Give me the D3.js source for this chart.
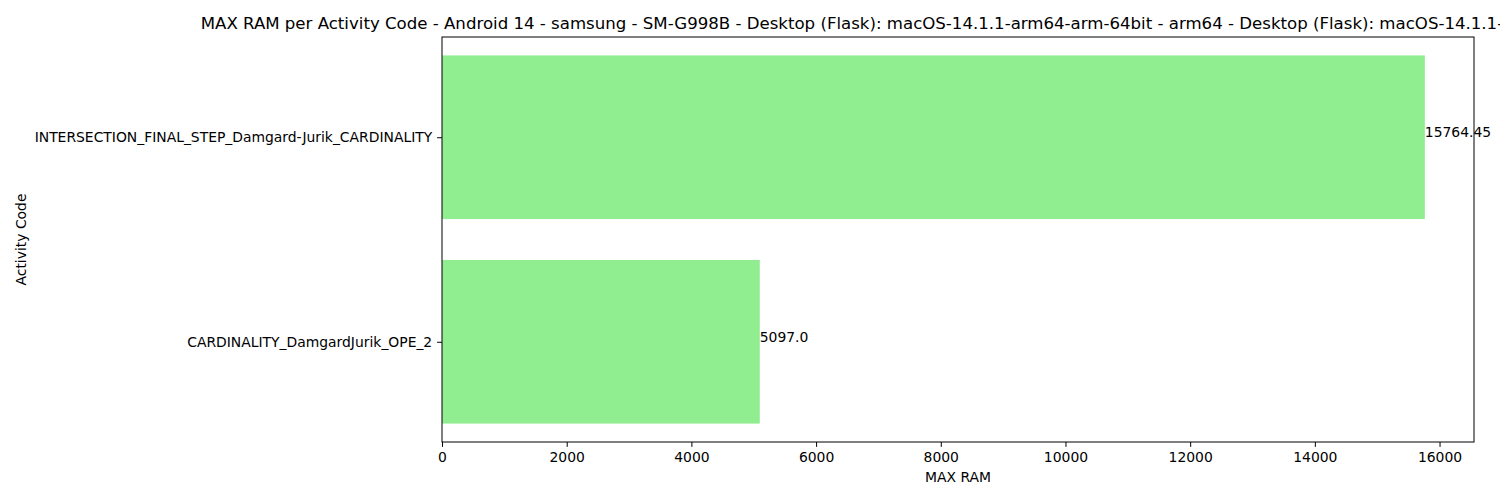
<!DOCTYPE html>
<html>
<head>
<meta charset="utf-8">
<script src="https://cdn.jsdelivr.net/npm/d3@7"></script>
<style>
  body { margin: 0; background: #fff; }
  svg text { font-family: 'DejaVu Sans', sans-serif; fill: #000; }
</style>
</head>
<body>
<div id="chart"></div>
<script>
// Data
var categories = ['CARDINALITY_DamgardJurik_OPE_2', 'INTERSECTION_FINAL_STEP_Damgard-Jurik_CARDINALITY']
var values = [5097.0, 15764.45]
var valueLabels = ['5097.0', '15764.45']
var xTicks = [0, 2000, 4000, 6000, 8000, 10000, 12000, 14000, 16000]

var titleText = 'MAX RAM per Activity Code - Android 14 - samsung - SM-G998B - Desktop (Flask): macOS-14.1.1-arm64-arm-64bit - arm64 - Desktop (Flask): macOS-14.1.1-arm64-arm-64bit - arm64'

// Set up margin/height/width
var margin = { top: 37, left: 442, right: 26, bottom: 58 }
var totalWidth = 1500
var totalHeight = 500
var width = totalWidth - margin.left - margin.right
var height = totalHeight - margin.top - margin.bottom

var svg = d3
  .select('#chart')
  .append('svg')
  .attr('width', totalWidth)
  .attr('height', totalHeight)

var g = svg.append('g').attr('transform', `translate(${margin.left},${margin.top})`)

// Scales (matplotlib-like margins)
var xMax = d3.max(values) * 1.05
var xPositionScale = d3.scaleLinear().domain([0, xMax]).range([0, width])

var barH = 0.8
var yPad = (categories.length - 1 + barH) * 0.05
var yPositionScale = d3
  .scaleLinear()
  .domain([-barH / 2 - yPad, categories.length - 1 + barH / 2 + yPad])
  .range([height, 0])

// Bars
g.selectAll('.bar')
  .data(values)
  .enter()
  .append('rect')
  .attr('class', 'bar')
  .attr('x', xPositionScale(0))
  .attr('y', (d, i) => yPositionScale(i + barH / 2))
  .attr('width', d => xPositionScale(d) - xPositionScale(0))
  .attr('height', (d, i) => yPositionScale(i - barH / 2) - yPositionScale(i + barH / 2))
  .attr('fill', '#90ee90')

// Value labels
g.selectAll('.value-label')
  .data(values)
  .enter()
  .append('text')
  .attr('class', 'value-label')
  .attr('x', d => xPositionScale(d))
  .attr('y', (d, i) => yPositionScale(i))
  .attr('font-size', '13.9px')
  .text((d, i) => valueLabels[i])

// Axes
var xAxis = d3
  .axisBottom(xPositionScale)
  .tickValues(xTicks)
  .tickFormat(d3.format('d'))
  .tickSizeOuter(0)
  .tickSize(4.9)
  .tickPadding(4.9)
var xg = g
  .append('g')
  .attr('class', 'axis x-axis')
  .attr('transform', 'translate(0,' + height + ')')
  .call(xAxis)

var yAxis = d3
  .axisLeft(yPositionScale)
  .tickValues(d3.range(categories.length))
  .tickFormat(i => categories[i])
  .tickSizeOuter(0)
  .tickSize(4.9)
  .tickPadding(4.9)
var yg = g
  .append('g')
  .attr('class', 'axis y-axis')
  .call(yAxis)

svg.selectAll('.axis text').attr('font-size', '13.9px').attr('font-family', 'DejaVu Sans, sans-serif').attr('fill', '#000')
svg.selectAll('.axis line').attr('stroke', '#000').attr('stroke-width', 1)
svg.selectAll('.axis .domain').remove()

// Frame
g.append('rect')
  .attr('x', 0)
  .attr('y', 0)
  .attr('width', width)
  .attr('height', height)
  .attr('fill', 'none')
  .attr('stroke', '#000')
  .attr('stroke-width', 1)

// Axis titles
svg
  .append('text')
  .attr('x', margin.left + width / 2)
  .attr('y', 482)
  .attr('text-anchor', 'middle')
  .attr('font-size', '13.9px')
  .text('MAX RAM')

svg
  .append('text')
  .attr('transform', `translate(26,${margin.top + height / 2}) rotate(-90)`)
  .attr('text-anchor', 'middle')
  .attr('font-size', '13.9px')
  .text('Activity Code')

// Title (runs off the right edge, as in the original)
svg
  .append('text')
  .attr('x', margin.left + width / 2)
  .attr('y', 29)
  .attr('text-anchor', 'middle')
  .attr('font-size', '16.6px')
  .text(titleText)
</script>
</body>
</html>
